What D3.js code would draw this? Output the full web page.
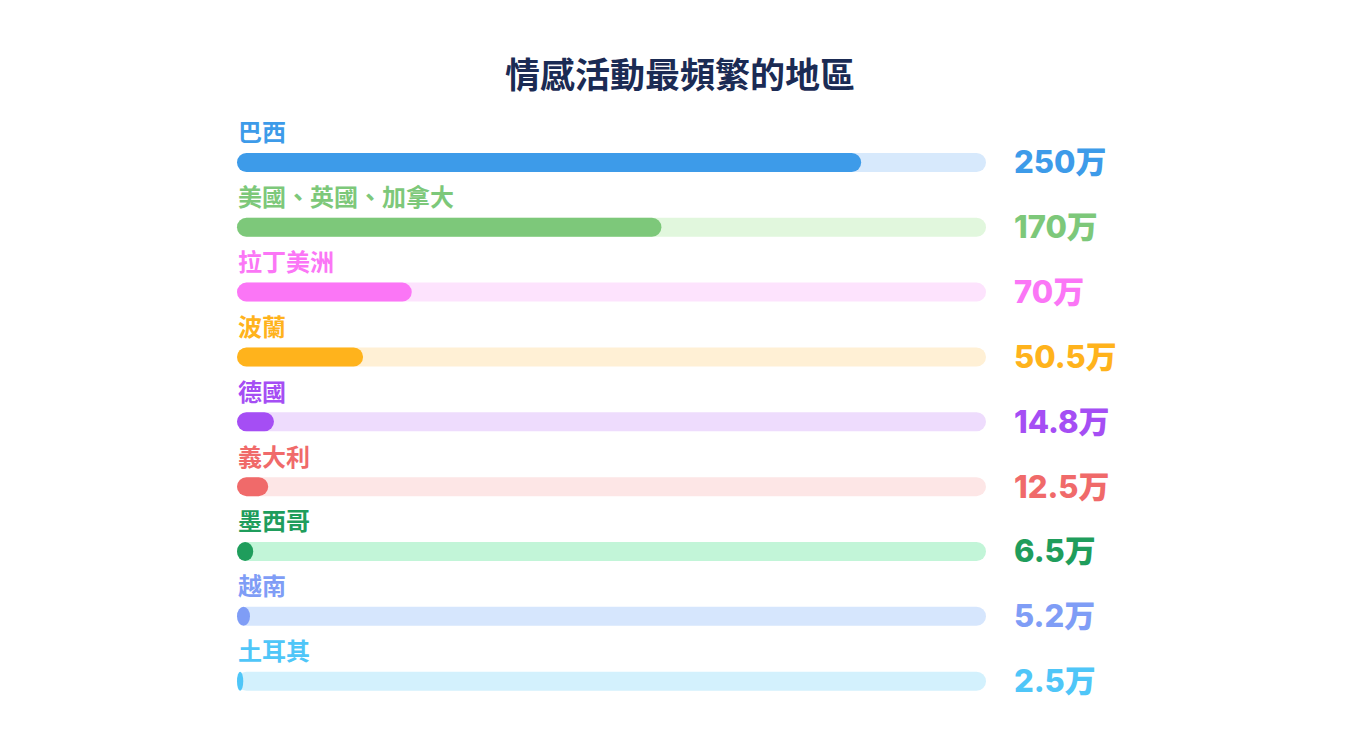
<!DOCTYPE html>
<html>
<head>
<meta charset="utf-8">
<script src="https://cdn.jsdelivr.net/npm/d3@7"></script>
<style>
  html, body { margin: 0; padding: 0; background: #fff; }
  svg { display: block; }
</style>
</head>
<body>
<script>
var categories = ["巴西", "美國、英國、加拿大", "拉丁美洲", "波蘭", "德國", "義大利", "墨西哥", "越南", "土耳其"];
var values = [250, 170, 70, 50.5, 14.8, 12.5, 6.5, 5.2, 2.5];
var valueLabels = ["250万", "170万", "70万", "50.5万", "14.8万", "12.5万", "6.5万", "5.2万", "2.5万"];
var barColors = ["#3d9be9", "#7dc87a", "#fb76f6", "#ffb31c", "#a54ef4", "#f06a6a", "#1f9d5c", "#7f9df6", "#4fc6f8"];
var trackColors = ["#d7e9fc", "#e1f7dd", "#fde3fd", "#fff0d5", "#eedcfd", "#fde6e6", "#c2f5d8", "#d6e6fd", "#d3f1fd"];

var W = 1360, H = 755;
var svg = d3.select("body").append("svg").attr("width", W).attr("height", H);

var x = d3.scaleLinear().domain([0, 300]).range([237, 986]);
var y = d3.scaleBand().domain(categories).range([130, 713.6]).padding(0);
var barH = 19;

svg.append("text")
    .attr("x", 680).attr("y", 88)
    .attr("text-anchor", "middle")
    .attr("font-family", "'Noto Sans CJK TC', 'Noto Sans CJK SC', sans-serif")
    .attr("font-weight", 700)
    .attr("font-size", 35)
    .attr("fill", "#1b2b54")
    .text("情感活動最頻繁的地區");

var row = svg.selectAll("g.row")
    .data(categories)
    .enter().append("g")
    .attr("class", "row")
    .attr("transform", function(d){ return "translate(0," + (y(d) + y.bandwidth() / 2) + ")"; });

row.append("rect")
    .attr("x", x(0))
    .attr("y", -barH / 2)
    .attr("width", x(300) - x(0))
    .attr("height", barH)
    .attr("rx", barH / 2)
    .attr("fill", function(d, i){ return trackColors[i]; });

row.append("rect")
    .attr("x", x(0))
    .attr("y", -barH / 2)
    .attr("width", function(d, i){ return Math.max(x(values[i]) - x(0), 6); })
    .attr("height", barH)
    .attr("rx", barH / 2)
    .attr("fill", function(d, i){ return barColors[i]; });

row.append("text")
    .attr("x", x(0) + 1)
    .attr("y", -21)
    .attr("font-family", "'Noto Sans CJK TC', 'Noto Sans CJK SC', sans-serif")
    .attr("font-weight", 700)
    .attr("font-size", 24)
    .attr("fill", function(d, i){ return barColors[i]; })
    .text(function(d){ return d; });

row.append("text")
    .attr("x", 1014)
    .attr("y", 11)
    .attr("font-family", "Inter, 'Noto Sans CJK SC', sans-serif")
    .attr("font-weight", 800)
    .attr("font-size", 31)
    .attr("fill", function(d, i){ return barColors[i]; })
    .text(function(d, i){ return valueLabels[i]; });
</script>
</body>
</html>
